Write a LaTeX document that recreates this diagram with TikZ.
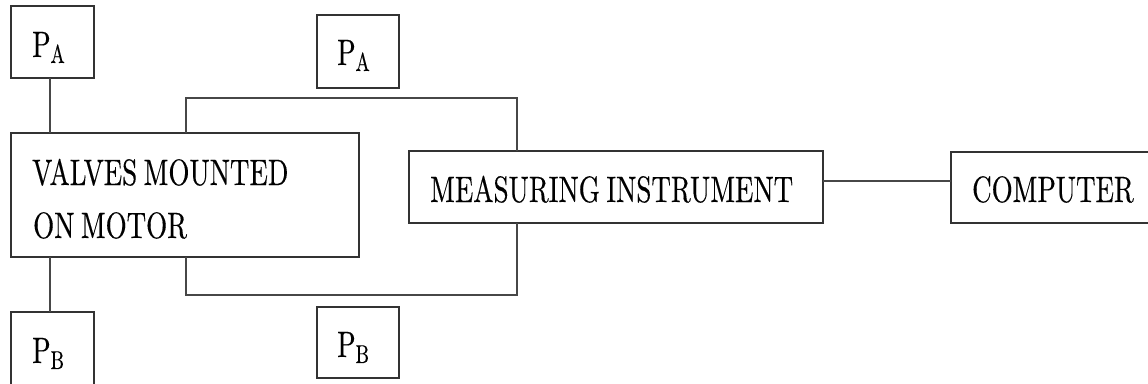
\documentclass[tikz,border=0pt]{standalone}
\usepackage{fontspec}
\usepackage{graphicx}
\newfontfamily\lmten{lmroman10-regular}[Extension=.otf, FakeBold=0.35]
\newcommand{\stxt}[1]{\scalebox{1}[1.36]{#1}}
\newcommand{\psub}[1]{\stxt{P\raisebox{-4.4pt}{\fontsize{19}{19}\selectfont #1}}}
\newcommand{\tightsp}{\spaceskip=0.24em\relax}
\begin{document}
\begin{tikzpicture}[x=1pt,y=1pt,
  box/.style={draw=black!80, line width=1.4pt, rectangle, inner sep=0pt, outer sep=0pt},
  conn/.style={draw=black!72, line width=1.4pt},
  lbl/.style={anchor=base west, inner sep=0pt, font=\lmten\fontsize{27}{29}\selectfont\tightsp, text=black}]
\useasboundingbox (0,0) rectangle (1148,-383);
\clip (0,0) rectangle (1148,-383);
\fill[white] (0,0) rectangle (1148,-383);
% boxes
\node[box, minimum width=83pt, minimum height=72pt] (pa1) at (52.5,-42) {};
\node[box, minimum width=348pt, minimum height=124pt] (valves) at (185,-195) {};
\node[box, minimum width=83pt, minimum height=90pt] (pb1) at (52.5,-357) {};
\node[box, minimum width=82pt, minimum height=73pt] (pa2) at (358,-51.5) {};
\node[box, minimum width=82pt, minimum height=71pt] (pb2) at (358,-342.5) {};
\node[box, minimum width=414pt, minimum height=72pt] (instr) at (616,-187) {};
\node[box, minimum width=219pt, minimum height=71pt] (comp) at (1060.5,-187.5) {};
% labels
\node[lbl] (tpa1) at (32,-57) {\psub{A}};
\node[lbl] (tpa2) at (337,-65) {\psub{A}};
\node[lbl] (tpb1) at (32,-363) {\psub{B}};
\node[lbl] (tpb2) at (337,-357) {\psub{B}};
\node[lbl] (tv1) at (32,-185) {\stxt{VALVES MOUNTED}};
\node[lbl] (tv2) at (33,-238) {\stxt{ON MOTOR}};
\node[lbl] (ti) at (430,-202) {\stxt{MEASURING INSTRUMENT}};
\node[lbl] (tc) at (972,-202) {\stxt{COMPUTER}};
% connector coordinates
\coordinate (c1) at (50,0);
\coordinate (tl) at (186,-98);
\coordinate (tr) at (517,-98);
\coordinate (bl) at (186,-295);
\coordinate (br) at (517,-295);
\coordinate (cy) at (0,-181);
% connectors
\draw[conn] (pa1.south -| c1) -- (valves.north -| c1);
\draw[conn] (valves.south -| c1) -- (pb1.north -| c1);
\draw[conn] (valves.north -| tl) -- (tl) -- (tr) -- (instr.north -| tr);
\draw[conn] (valves.south -| bl) -- (bl) -- (br) -- (instr.south -| br);
\draw[conn] (instr.east |- cy) -- (comp.west |- cy);
\end{tikzpicture}
\end{document}
